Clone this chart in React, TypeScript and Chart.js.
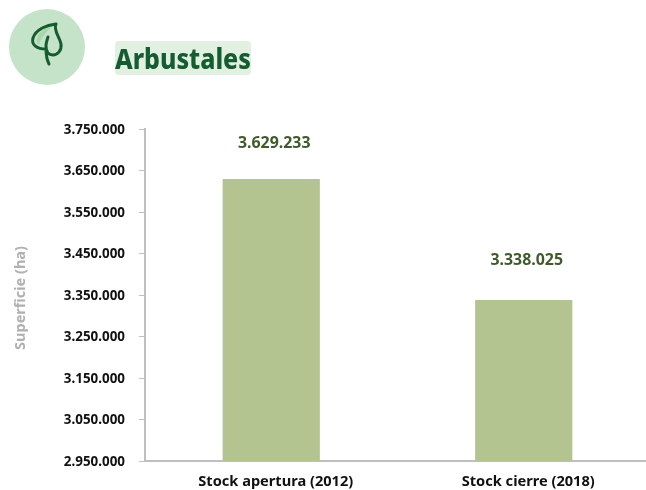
import React, { useEffect, useRef } from "react";
import { Chart, registerables } from "chart.js";

Chart.register(...registerables);

const categories = ["Stock apertura (2012)", "Stock cierre (2018)"];
const stockValues = [3629233, 3338025];
const yMin = 2950000;
const yMax = 3750000;
const yStep = 100000;
const titleText = "Arbustales";
const yAxisTitle = "Superficie (ha)";

const fontFamily = '"Noto Sans", sans-serif';
const fmt = (v: number) => String(Math.round(v)).replace(/\B(?=(\d{3})+$)/g, ".");

const valueLabels = {
  id: "valueLabels",
  afterDatasetsDraw(chart: any) {
    const { ctx } = chart;
    const meta = chart.getDatasetMeta(0);
    ctx.save();
    ctx.font = `700 15.9px ${fontFamily}`;
    ctx.fillStyle = "#3f5a2b";
    ctx.textAlign = "center";
    ctx.textBaseline = "middle";
    meta.data.forEach((el: any, i: number) => {
      ctx.fillText(fmt(stockValues[i]), el.x + 3, el.y - (i === 0 ? 36 : 40));
    });
    ctx.restore();
    // y-axis title
    ctx.save();
    ctx.translate(21, 298);
    ctx.rotate(-Math.PI / 2);
    ctx.font = `700 14.5px ${fontFamily}`;
    ctx.fillStyle = "#b0b0b0";
    ctx.textAlign = "center";
    ctx.textBaseline = "middle";
    ctx.fillText(yAxisTitle, 0, 0);
    ctx.restore();
  },
};

export default function App() {
  const ref = useRef<HTMLCanvasElement | null>(null);
  useEffect(() => {
    document.body.style.margin = "0";
    const chart = new Chart(ref.current as HTMLCanvasElement, {
      type: "bar",
      data: {
        labels: categories,
        datasets: [
          {
            data: stockValues,
            backgroundColor: "#b3c490",
            barPercentage: 1,
            categoryPercentage: 0.385,
          },
        ],
      },
      plugins: [valueLabels],
      options: {
        responsive: false,
        animation: false,
        layout: { padding: { top: 129, left: 14, right: 0, bottom: 0 } },
        plugins: { legend: { display: false }, tooltip: { enabled: false } },
        scales: {
          x: {
            afterFit(s: any) { s.height = 29; },
            grid: { display: false, drawTicks: false },
            border: { color: "#bfbfbf", width: 2 },
            ticks: {
              color: "#111111",
              padding: 12,
              labelOffset: 4.5,
              font: { family: fontFamily, size: 14.6, weight: "bold" },
            },
          },
          y: {
            min: yMin,
            max: yMax,
            afterFit(s: any) { s.width = 131; },
            grid: { drawOnChartArea: false, color: "#bfbfbf", tickLength: 6 },
            border: { color: "#bfbfbf", width: 2 },
            ticks: {
              stepSize: yStep,
              color: "#111111",
              padding: 14,
              labelOffset: 1,
              font: { family: fontFamily, size: 13.4, weight: "bold" },
              callback: (v: any) => fmt(Number(v)),
            },
          },
        },
      },
    } as any);
    return () => chart.destroy();
  }, []);

  return (
    <div style={{ position: "relative", width: 646, height: 490, overflow: "hidden", background: "#fff" }}>
      <canvas ref={ref} width={650} height={490} style={{ position: "absolute", left: 0, top: 0, width: 650, height: 490 }} />
      <svg width={90} height={90} viewBox="0 0 90 90" style={{ position: "absolute", left: 0, top: 0 }}>
        <circle cx={47} cy={47} r={38} fill="#c5e3c8" />
        <path d="M52 27 C44 29 38 32 37 38 C36 42 37 44 39 45 C40 39 46 32 52 27 Z" fill="#a6d6ab" />
        <path
          d="M56 24 C47 25 36 29 33 38 C31 45 37 49 46 49 M56 24 C53 31 60 37 61 44 C62 51 57 55 53 55 C48 55 46 51 46 46 C46 43 47 40 48 37 M46 49 C46 55 47 60 49 64"
          fill="none"
          stroke="#155c30"
          strokeWidth={3}
          strokeLinecap="round"
          strokeLinejoin="round"
        />
      </svg>
      <div
        style={{
          position: "absolute",
          left: 115,
          top: 41,
          width: 136,
          height: 34,
          lineHeight: "34px",
          background: "#e1f0e0",
          borderRadius: 4,
          color: "#155c30",
          fontFamily,
          fontWeight: 800,
          fontSize: 29,
          whiteSpace: "nowrap",
        }}
      >
        <span style={{ display: "inline-block", transform: "scaleX(0.86)", transformOrigin: "left center" }}>
          {titleText}
        </span>
      </div>
    </div>
  );
}
